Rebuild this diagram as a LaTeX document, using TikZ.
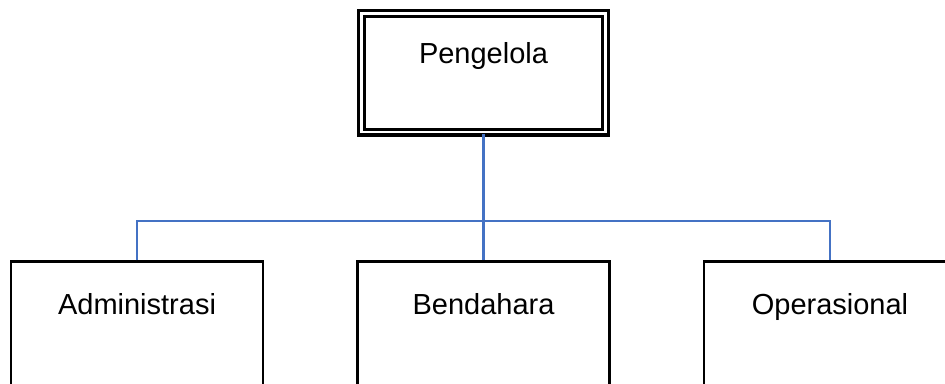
\documentclass[tikz,border=0pt]{standalone}
\usepackage{fontspec}
\setmainfont{Liberation Sans}
\usepackage{xcolor}
\usepackage{tikz}
\definecolor{lineblue}{RGB}{68, 114, 196}

\begin{document}
\begin{tikzpicture}[x=1pt, y=1pt,
	font=\fontsize{29}{34}\selectfont,
	headbox/.style={draw, line width=3.2pt, double=white, double distance=2.6pt, inner sep=0pt, minimum width=243.6pt, text height=50.3pt, text depth=68.2pt, anchor=north},
	unitbox/.style={draw, line width=2.6pt, inner sep=0pt, minimum width=252pt, text height=52.7pt, text depth=120pt, anchor=north},
	orgline/.style={lineblue, line width=2.3pt}]
	\clip (0,0) rectangle (945,383);

	% head of the organisation
	\node[headbox] (head) at (483.5,371) {Pengelola};

	% the three units below it
	\node[unitbox] (adm) at (137,122.7) {Administrasi};
	\node[unitbox] (bend) at (483.5,122.7) {Bendahara};
	\node[unitbox] (ops) at (830,122.7) {Operasional};

	% connecting lines
	\coordinate (bus) at (483.5,162.3);
	\draw[orgline] (head.south) -- (bend.north);
	\draw[orgline] (adm.north) -- (adm.north |- bus) -- (ops.north |- bus) -- (ops.north);
\end{tikzpicture}
\end{document}
